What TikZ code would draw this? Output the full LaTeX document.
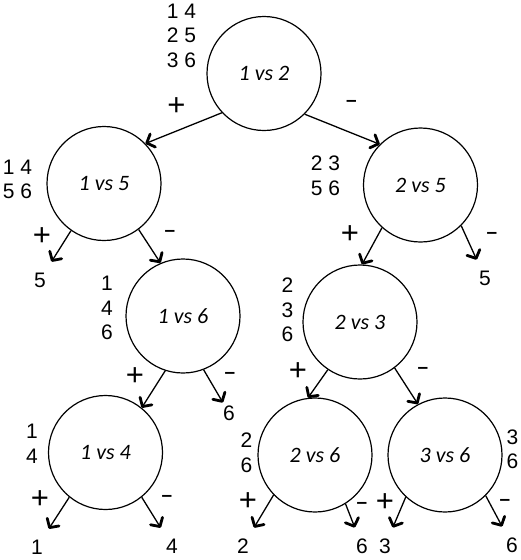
\documentclass[tikz,border=0pt]{standalone}
\usepackage{fontspec}
\setmainfont{Liberation Sans}
\newfontfamily\vsfont{Carlito}
\usetikzlibrary{arrows.meta}

\tikzset{
  test/.style={circle, draw, line width=1.2pt, minimum size=114pt, inner sep=0pt,
    font=\vsfont\itshape\fontsize{22}{22}\selectfont},
  classlist/.style={align=center, inner sep=0pt, font=\fontsize{21}{24.5}\selectfont},
  leaf/.style={inner sep=0pt, outer sep=11pt, font=\fontsize{21}{21}\selectfont},
  plussign/.style={inner sep=0pt, font=\fontsize{31}{31}\selectfont},
  minussign/.style={inner sep=0pt, font=\bfseries\fontsize{19}{19}\selectfont},
  branch/.style={line width=1.3pt,
    -{Straight Barb[length=6.5pt,width=14pt,line width=2.8pt,round]}},
}

\begin{document}
\begin{tikzpicture}[x=1pt, y=-1pt]
  \useasboundingbox (0,0) rectangle (520,560);

  % Pairwise tests
  \node[test] (t12) at (264,73.5) {1 vs 2};
  \node[test] (t15) at (104,183.5) {1 vs 5};
  \node[test] (t25) at (420.5,185) {2 vs 5};
  \node[test] (t16) at (183,316) {1 vs 6};
  \node[test] (t23) at (360,322) {2 vs 3};
  \node[test] (t14) at (105.5,452.5) {1 vs 4};
  \node[test] (t26) at (315,455) {2 vs 6};
  \node[test] (t36) at (445,455) {3 vs 6};

  % Classes still left at each test
  \node[classlist] (c12) at (181.5,35.5) {1 4\\2 5\\3 6};
  \node[classlist] (c15) at (17.5,179.5) {1 4\\5 6};
  \node[classlist] (c25) at (325.5,176) {2 3\\5 6};
  \node[classlist] (c16) at (107,308) {1\\4\\6};
  \node[classlist] (c23) at (287.5,310) {2\\3\\6};
  \node[classlist] (c14) at (32,444) {1\\4};
  \node[classlist] (c26) at (246.5,453) {2\\6};
  \node[classlist] (c36) at (512.5,449.5) {3\\6};

  % Decided classes
  \node[leaf] (l5a) at (40,280) {5};
  \node[leaf] (l5b) at (485,278) {5};
  \node[leaf, outer sep=3pt] (l6a) at (229,413) {6};
  \node[leaf] (l1) at (37,547) {1};
  \node[leaf] (l4) at (172,546) {4};
  \node[leaf] (l2) at (243,546) {2};
  \node[leaf] (l6b) at (362,546) {6};
  \node[leaf] (l3) at (385,546) {3};
  \node[leaf] (l6c) at (512,545) {6};

  % Branches
  \draw[branch] (t12.223) -- (t15.44);
  \draw[branch] (t12.315) -- (t25.135);
  \draw[branch] (t15.235) -- (l5a);
  \draw[branch] (t15.307) -- (t16.113);
  \draw[branch] (t25.228) -- (t23.88);
  \draw[branch] (t25.315) -- (l5b);
  \draw[branch] (t16.252) -- (t14.51);
  \draw[branch] (t16.291) -- (l6a);
  \draw[branch] (t23.236) -- (t26.97);
  \draw[branch] (t23.307) -- (t36.118);
  \draw[branch] (t14.231) -- (l1);
  \draw[branch] (t14.309) -- (l4);
  \draw[branch] (t26.224) -- (l2);
  \draw[branch] (t26.302) -- (l6b);
  \draw[branch] (t36.227) -- (l3);
  \draw[branch] (t36.315) -- (l6c);

  % Branch signs
  \foreach \x/\y [count=\i] in {176.5/106.5, 42/237, 350/235, 135/377,
    298/372, 40/500, 248/502, 385/503} {
    \node[plussign] (p\i) at (\x,\y) {+};
  }
  \foreach \x/\y [count=\i] in {351.5/103, 170/233, 492/235, 230/375,
    423/370, 167/498, 362/505, 505/502} {
    \node[minussign] (m\i) at (\x,\y) {--};
  }
\end{tikzpicture}
\end{document}
